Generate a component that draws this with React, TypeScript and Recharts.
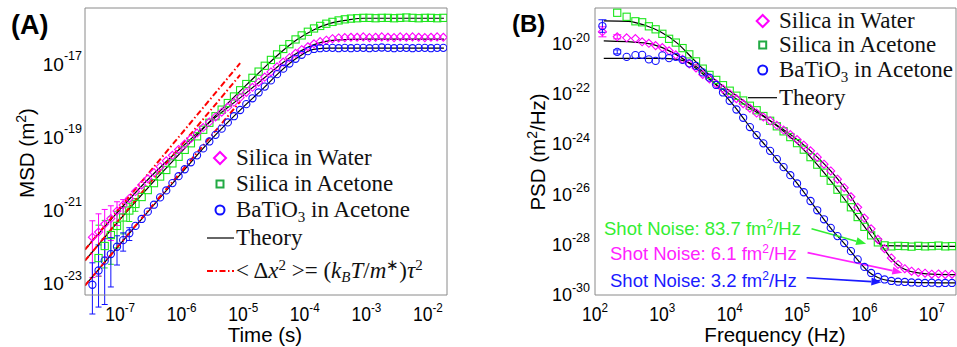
import React from 'react';
import { ComposedChart, Line, Scatter, XAxis, YAxis, ErrorBar, ReferenceLine } from 'recharts';

const SANS = '"Liberation Sans", Arial, Helvetica, sans-serif';
const SERIF = '"Liberation Serif", "Times New Roman", serif';
const AX = '#8a8a8a';
const MAG = '#ff00ff';
const GRN = '#1de61d';
const GRN_LEG = '#22aa44';
const BLU = '#1010ff';
const RED = '#ff0000';

// ---------------- Panel A : MSD vs time (log10 values) ----------------
const timeLog = [
  -7.45, -7.35, -7.25, -7.15, -7.05, -6.95, -6.85, -6.75, -6.65, -6.55,
  -6.45, -6.35, -6.25, -6.15, -6.05, -5.95, -5.85, -5.75, -5.65, -5.55,
  -5.45, -5.35, -5.25, -5.15, -5.05, -4.95, -4.85, -4.75, -4.65, -4.55,
  -4.45, -4.35, -4.25, -4.15, -4.05, -3.95, -3.85, -3.75, -3.65, -3.55,
  -3.45, -3.35, -3.25, -3.15, -3.05, -2.95, -2.85, -2.75, -2.65, -2.55,
  -2.45, -2.35, -2.25, -2.15, -2.05, -1.95, -1.85, -1.75,
];
const msdWater = [
  -21.76, -21.62, -21.40, -21.25, -21.04, -20.88, -20.70, -20.51, -20.33, -20.16,
  -19.99, -19.83, -19.67, -19.52, -19.36, -19.21, -19.06, -18.91, -18.76, -18.61,
  -18.47, -18.34, -18.20, -18.07, -17.94, -17.80, -17.66, -17.52, -17.38, -17.24,
  -17.10, -16.97, -16.85, -16.73, -16.63, -16.55, -16.47, -16.41, -16.37, -16.33,
  -16.31, -16.30, -16.29, -16.29, -16.28, -16.30, -16.29, -16.28, -16.29, -16.30,
  -16.28, -16.29, -16.28, -16.29, -16.30, -16.29, -16.28, -16.29,
];
const msdAcetone = [
  null, -22.33, -22.00, -21.70, -21.45, -21.22, -21.03, -20.85, -20.66, -20.47,
  -20.28, -20.10, -19.92, -19.74, -19.56, -19.37, -19.19, -19.00, -18.82, -18.63,
  -18.45, -18.27, -18.09, -17.91, -17.74, -17.57, -17.40, -17.23, -17.07, -16.91,
  -16.76, -16.61, -16.48, -16.35, -16.24, -16.14, -16.05, -15.98, -15.92, -15.87,
  -15.83, -15.80, -15.78, -15.77, -15.76, -15.76, -15.77, -15.76, -15.76, -15.77,
  -15.76, -15.75, -15.76, -15.77, -15.76, -15.76, -15.77, -15.76,
];
const msdBaTiO3 = [
  -23.06, -22.67, -22.40, -22.22, -22.02, -21.84, -21.65, -21.45, -21.26, -21.06,
  -20.87, -20.67, -20.48, -20.28, -20.09, -19.90, -19.71, -19.52, -19.33, -19.14,
  -18.96, -18.79, -18.62, -18.45, -18.28, -18.12, -17.96, -17.80, -17.64, -17.47,
  -17.30, -17.15, -17.01, -16.88, -16.77, -16.67, -16.61, -16.59, -16.58, -16.58,
  -16.59, -16.58, -16.59, -16.58, -16.58, -16.59, -16.58, -16.57, -16.58, -16.59,
  -16.58, -16.58, -16.59, -16.58, -16.58, -16.59, -16.58, -16.58,
];
const errWaterLow = [1.1, 1.2, 0.9, 0.6, 0.4, 0.25];
const errWaterHigh = [0.45, 0.5, 0.4, 0.35, 0.25, 0.15];
const errAcetoneLow = [0, 0.5, 0.6, 0.8, 0.6, 0.45, 0.3, 0.2];
const errAcetoneHigh = [0, 0.9, 0.7, 0.5, 0.4, 0.3, 0.2, 0.15];
const errBaTiO3Low = [0.8, 1.0, 1.2, 0.9, 0.5, 0.3, 0.2];
const errBaTiO3High = [0.6, 0.7, 0.6, 0.45, 0.3, 0.2, 0.15];

const theoryWaterT = [-7.57, -7.0, -6.5, -6.0, -5.5, -5.0, -4.67, -4.4, -4.13, -3.86, -3.59, -3.3, -3.0, -1.74];
const theoryWaterV = [-22.10, -21.0, -20.1, -19.3, -18.55, -17.88, -17.42, -17.04, -16.73, -16.50, -16.38, -16.35, -16.34, -16.34];
const theoryAcetoneT = [-7.57, -7.0, -6.5, -6.0, -5.5, -5.0, -4.67, -4.4, -4.13, -3.86, -3.59, -3.31, -3.04, -1.74];
const theoryAcetoneV = [-22.40, -21.27, -20.32, -19.42, -18.52, -17.68, -17.14, -16.72, -16.36, -16.09, -15.91, -15.82, -15.77, -15.77];
const theoryBaTiO3T = [-7.57, -7.0, -6.5, -6.0, -5.5, -5.0, -4.67, -4.4, -4.13, -3.86, -3.59, -1.74];
const theoryBaTiO3V = [-23.08, -21.95, -20.97, -20.0, -19.05, -18.20, -17.68, -17.23, -16.86, -16.62, -16.59, -16.59];

const ballisticT = [-7.57, -5.05];
const ballisticWater = [-22.10, -17.0];
const ballisticAcetone = [-22.40, -17.32];
const ballisticBaTiO3 = [-23.08, -18.05];

const timeTicks = [-7, -6, -5, -4, -3, -2];
const msdTicks = [-23, -21, -19, -17];
const msdMinor = [-22, -20, -18, -16];

// ---------------- Panel B : PSD vs frequency (log10 values) ----------------
const freqLog = [
  2.11, 2.33, 2.47, 2.6, 2.7, 2.8, 2.9, 3.0, 3.1, 3.2,
  3.3, 3.4, 3.5, 3.6, 3.7, 3.8, 3.9, 4.0, 4.1, 4.2,
  4.3, 4.4, 4.5, 4.6, 4.7, 4.8, 4.9, 5.0, 5.1, 5.2,
  5.3, 5.4, 5.5, 5.6, 5.7, 5.8, 5.9, 6.0, 6.1, 6.2,
  6.3, 6.4, 6.5, 6.6, 6.7, 6.8, 6.9, 7.0, 7.1, 7.2, 7.3,
];
const psdWater = [
  -19.50, -19.70, -19.74, -19.77, -19.90, -19.96, -20.05, -20.13, -20.26, -20.42,
  -20.60, -20.78, -20.94, -21.20, -21.38, -21.58, -21.78, -21.97, -22.17, -22.37,
  -22.55, -22.74, -22.90, -23.05, -23.23, -23.42, -23.60, -23.80, -24.02, -24.25,
  -24.50, -24.78, -25.05, -25.38, -25.72, -26.08, -26.50, -26.93, -27.36, -27.78,
  -28.15, -28.52, -28.78, -28.95, -29.05, -29.10, -29.13, -29.17, -29.16, -29.18, -29.17,
];
const psdAcetone = [
  null, -18.74, -18.90, -19.08, -19.12, -19.28, -19.40, -19.58, -19.78, -19.93,
  -20.15, -20.40, -20.68, -20.97, -21.22, -21.42, -21.63, -21.85, -22.05, -22.24,
  -22.45, -22.63, -22.86, -23.05, -23.27, -23.47, -23.70, -23.94, -24.20, -24.50,
  -24.80, -25.12, -25.44, -25.80, -26.15, -26.50, -26.89, -27.28, -27.62, -27.90,
  -28.02, -28.06, -28.04, -28.05, -28.07, -28.04, -28.06, -28.05, -28.03, -28.06, -28.05,
];
const psdBaTiO3 = [
  -19.27, -20.30, -20.50, -20.43, -20.42, -20.60, -20.66, -20.44, -20.55, -20.50,
  -20.62, -20.76, -20.86, -21.12, -21.33, -21.62, -21.92, -22.25, -22.60, -22.93,
  -23.30, -23.62, -23.95, -24.25, -24.58, -24.90, -25.22, -25.55, -25.90, -26.25,
  -26.62, -26.98, -27.32, -27.65, -27.93, -28.25, -28.58, -28.88, -29.12, -29.28,
  -29.38, -29.44, -29.47, -29.48, -29.50, -29.51, -29.52, -29.51, -29.53, -29.52, -29.52,
];
const errPsdWaterLow = [0.2, 0.08];
const errPsdWaterHigh = [0.2, 0.08];
const errPsdBaTiO3Low = [0.25, 0.08];
const errPsdBaTiO3High = [0.25, 0.08];

const thPsdWaterF = [2.13, 2.73, 2.97, 3.22, 3.47, 3.71, 3.96, 4.23, 4.6, 4.95, 5.2, 5.5, 5.78, 6.0, 6.15, 6.25, 6.4, 6.55, 6.75, 7.0, 7.36];
const thPsdWaterV = [-19.86, -19.94, -20.10, -20.43, -20.89, -21.42, -21.91, -22.42, -23.05, -23.70, -24.25, -25.05, -26.0, -26.95, -27.6, -28.0, -28.55, -28.9, -29.1, -29.17, -29.19];
const thPsdAcetoneF = [2.13, 2.5, 2.73, 2.97, 3.22, 3.47, 3.71, 3.96, 4.18, 4.5, 4.79, 5.06, 5.3, 5.5, 5.67, 5.85, 6.03, 6.15, 6.3, 7.36];
const thPsdAcetoneV = [-19.06, -19.08, -19.23, -19.50, -19.95, -20.62, -21.25, -21.78, -22.20, -22.85, -23.45, -24.1, -24.8, -25.45, -26.05, -26.72, -27.38, -27.8, -28.03, -28.06];
const thPsdBaTiO3F = [2.13, 3.0, 3.22, 3.5, 3.72, 3.92, 4.15, 4.33, 4.52, 4.75, 4.96, 5.13, 5.32, 5.52, 5.72, 5.9, 6.05, 6.2, 6.4, 6.7, 7.36];
const thPsdBaTiO3V = [-20.56, -20.56, -20.60, -20.88, -21.4, -22.0, -22.75, -23.41, -24.0, -24.75, -25.41, -26.0, -26.7, -27.4, -28.0, -28.6, -29.05, -29.3, -29.45, -29.5, -29.52];

const freqTicks = [2, 3, 4, 5, 6, 7];
const psdTicks = [-30, -28, -26, -24, -22, -20];
const psdMinor = [-29, -27, -25, -23, -21, -19];

// shot-noise annotation arrows (log10 f, log10 PSD)
const arrowGreen = [[5.215, -27.36], [6.025, -27.96]];
const arrowMagenta = [[5.156, -28.31], [6.563, -29.11]];
const arrowBlue = [[5.141, -29.31], [6.252, -29.49]];

// ---------------- helpers ----------------
const series = (xs: number[], ys: (number | null)[], lo?: number[], hi?: number[]) =>
  xs
    .map((x, i) => ({
      x,
      y: ys[i],
      err: lo && hi && i < lo.length && lo[i] > 0 ? [lo[i], hi[i]] : undefined,
    }))
    .filter((d) => d.y !== null && d.y !== undefined);

const minorDecades = (lo: number, hi: number) => {
  const out: number[] = [];
  for (let d = Math.floor(lo); d < hi; d++) {
    for (let k = 2; k <= 9; k++) {
      const v = d + Math.log10(k);
      if (v > lo && v < hi) out.push(v);
    }
  }
  return out;
};

const diamond = (color: string, s: number) => (p: any) => {
  const { cx, cy } = p;
  if (cx == null || cy == null) return <g />;
  return <path d={`M${cx},${cy - s}L${cx + s},${cy}L${cx},${cy + s}L${cx - s},${cy}Z`} fill="none" stroke={color} strokeWidth={1.1} />;
};
const square = (color: string, s: number) => (p: any) => {
  const { cx, cy } = p;
  if (cx == null || cy == null) return <g />;
  return <rect x={cx - s} y={cy - s} width={2 * s} height={2 * s} fill="none" stroke={color} strokeWidth={1.1} />;
};
const circle = (color: string, r: number) => (p: any) => {
  const { cx, cy } = p;
  if (cx == null || cy == null) return <g />;
  return <circle cx={cx} cy={cy} r={r} fill="none" stroke={color} strokeWidth={1.1} />;
};

const arrowShape = (color: string) => (p: any) => {
  const { x1, y1, x2, y2 } = p;
  if ([x1, y1, x2, y2].some((v) => v == null || isNaN(v))) return <g />;
  const a = Math.atan2(y2 - y1, x2 - x1);
  const L = 10;
  const W = 4;
  const bx = x2 - L * Math.cos(a);
  const by = y2 - L * Math.sin(a);
  const px = -Math.sin(a) * W;
  const py = Math.cos(a) * W;
  return (
    <g>
      <line x1={x1} y1={y1} x2={bx} y2={by} stroke={color} strokeWidth={1.6} />
      <polygon points={`${x2},${y2} ${bx + px},${by + py} ${bx - px},${by - py}`} fill={color} />
    </g>
  );
};

const makeXTick = (base: number, sx: number) => (props: any) => {
  const { x, payload } = props;
  return (
    <text transform={`translate(${x},${base}) scale(${sx},1)`} x={0} y={0} textAnchor="middle" fontFamily={SANS} fontSize={19.5} fill="#000">
      10<tspan dy={-8.7} fontSize={13}>{String(payload.value)}</tspan>
    </text>
  );
};
const makeYTick = (right: number, dyBase: number, fs: number, expDy: number) => (props: any) => {
  const { y, payload } = props;
  return (
    <text x={right} y={y + dyBase} textAnchor="end" fontFamily={SANS} fontSize={fs} fill="#000">
      10<tspan dy={expDy} fontSize={12.5}>{String(payload.value)}</tspan>
    </text>
  );
};

const boxAxes = (xDomain: number[], yDomain: number[], xMajor: number[], xMinor: number[], yMajor: number[], yMinor: number[]) => {
  const c = { type: 'number' as const, allowDataOverflow: true, interval: 0 as const, tick: false, mirror: true };
  return [
    <XAxis key="xb1" xAxisId="xb1" orientation="bottom" domain={xDomain} ticks={xMajor} tickSize={5} axisLine={false} tickLine={{ stroke: AX }} {...c} />,
    <XAxis key="xb2" xAxisId="xb2" orientation="bottom" domain={xDomain} ticks={xMinor} tickSize={3} axisLine={false} tickLine={{ stroke: AX }} {...c} />,
    <XAxis key="xt1" xAxisId="xt1" orientation="top" domain={xDomain} ticks={xMajor} tickSize={5} axisLine={{ stroke: AX }} tickLine={{ stroke: AX }} {...c} />,
    <XAxis key="xt2" xAxisId="xt2" orientation="top" domain={xDomain} ticks={xMinor} tickSize={3} axisLine={false} tickLine={{ stroke: AX }} {...c} />,
    <YAxis key="yl1" yAxisId="yl1" orientation="left" domain={yDomain} ticks={yMajor} tickSize={5} axisLine={false} tickLine={{ stroke: AX }} {...c} />,
    <YAxis key="yl2" yAxisId="yl2" orientation="left" domain={yDomain} ticks={yMinor} tickSize={3} axisLine={false} tickLine={{ stroke: AX }} {...c} />,
    <YAxis key="yr1" yAxisId="yr1" orientation="right" domain={yDomain} ticks={yMajor} tickSize={5} axisLine={{ stroke: AX }} tickLine={{ stroke: AX }} {...c} />,
    <YAxis key="yr2" yAxisId="yr2" orientation="right" domain={yDomain} ticks={yMinor} tickSize={3} axisLine={false} tickLine={{ stroke: AX }} {...c} />,
  ];
};

const A_X: number[] = [-7.57, -1.69];
const A_Y: number[] = [-23.34, -15.49];
const B_X: number[] = [2, 7.36];
const B_Y: number[] = [-30, -18.55];

function PanelA() {
  const dW = series(timeLog, msdWater, errWaterLow, errWaterHigh);
  const dA = series(timeLog, msdAcetone, errAcetoneLow, errAcetoneHigh);
  const dB = series(timeLog, msdBaTiO3, errBaTiO3Low, errBaTiO3High);
  return (
    <ComposedChart width={480} height={347} margin={{ top: 8, right: 33, bottom: 22, left: 0 }}>
      <XAxis xAxisId="m" dataKey="x" type="number" domain={A_X} allowDataOverflow ticks={timeTicks} interval={0}
        tickLine={false} axisLine={{ stroke: AX }} height={30} tick={makeXTick(320.5, 0.9)} />
      <YAxis yAxisId="m" dataKey="y" type="number" domain={A_Y} allowDataOverflow ticks={msdTicks} interval={0}
        tickLine={false} axisLine={{ stroke: AX }} width={85} tick={makeYTick(82, 7.4, 19, -10.4)} />
      {boxAxes(A_X, A_Y, timeTicks, minorDecades(A_X[0], A_X[1]), msdTicks, msdMinor)}
      <Scatter xAxisId="m" yAxisId="m" data={dA} dataKey="y" shape={square(GRN, 3.6)} isAnimationActive={false}>
        <ErrorBar dataKey="err" direction="y" width={3} stroke={GRN} strokeWidth={1} />
      </Scatter>
      <Scatter xAxisId="m" yAxisId="m" data={dW} dataKey="y" shape={diamond(MAG, 4)} isAnimationActive={false}>
        <ErrorBar dataKey="err" direction="y" width={3} stroke={MAG} strokeWidth={1} />
      </Scatter>
      <Scatter xAxisId="m" yAxisId="m" data={dB} dataKey="y" shape={circle(BLU, 3.6)} isAnimationActive={false}>
        <ErrorBar dataKey="err" direction="y" width={3} stroke={BLU} strokeWidth={1} />
      </Scatter>
      <Line xAxisId="m" yAxisId="m" data={series(theoryWaterT, theoryWaterV)} dataKey="y" type="monotone" stroke="#000" strokeWidth={1.2} dot={false} isAnimationActive={false} />
      <Line xAxisId="m" yAxisId="m" data={series(theoryAcetoneT, theoryAcetoneV)} dataKey="y" type="monotone" stroke="#000" strokeWidth={1.2} dot={false} isAnimationActive={false} />
      <Line xAxisId="m" yAxisId="m" data={series(theoryBaTiO3T, theoryBaTiO3V)} dataKey="y" type="monotone" stroke="#000" strokeWidth={1.2} dot={false} isAnimationActive={false} />
      <Line xAxisId="m" yAxisId="m" data={series(ballisticT, ballisticWater)} dataKey="y" type="linear" stroke={RED} strokeWidth={2} strokeDasharray="6 2.5 1.5 2.5" dot={false} isAnimationActive={false} />
      <Line xAxisId="m" yAxisId="m" data={series(ballisticT, ballisticAcetone)} dataKey="y" type="linear" stroke={RED} strokeWidth={2} strokeDasharray="6 2.5 1.5 2.5" dot={false} isAnimationActive={false} />
      <Line xAxisId="m" yAxisId="m" data={series(ballisticT, ballisticBaTiO3)} dataKey="y" type="linear" stroke={RED} strokeWidth={2} strokeDasharray="6 2.5 1.5 2.5" dot={false} isAnimationActive={false} />
    </ComposedChart>
  );
}

function PanelB() {
  const dW = series(freqLog, psdWater, errPsdWaterLow, errPsdWaterHigh);
  const dA = series(freqLog, psdAcetone);
  const dB = series(freqLog, psdBaTiO3, errPsdBaTiO3Low, errPsdBaTiO3High);
  const seg = (a: number[][]) => [{ x: a[0][0], y: a[0][1] }, { x: a[1][0], y: a[1][1] }];
  return (
    <ComposedChart width={477} height={347} margin={{ top: 8, right: 1, bottom: 22, left: 0 }}>
      <XAxis xAxisId="m" dataKey="x" type="number" domain={B_X} allowDataOverflow ticks={freqTicks} interval={0}
        tickLine={false} axisLine={{ stroke: AX }} height={30} tick={makeXTick(320.5, 0.9)} />
      <YAxis yAxisId="m" dataKey="y" type="number" domain={B_Y} allowDataOverflow ticks={psdTicks} interval={0}
        tickLine={false} axisLine={{ stroke: AX }} width={115} tick={makeYTick(110, 5.8, 18, -8.5)} />
      {boxAxes(B_X, B_Y, freqTicks, minorDecades(B_X[0], B_X[1]), psdTicks, psdMinor)}
      <Scatter xAxisId="m" yAxisId="m" data={dA} dataKey="y" shape={square(GRN, 3.6)} isAnimationActive={false} />
      <Scatter xAxisId="m" yAxisId="m" data={dW} dataKey="y" shape={diamond(MAG, 4)} isAnimationActive={false}>
        <ErrorBar dataKey="err" direction="y" width={4} stroke={MAG} strokeWidth={1} />
      </Scatter>
      <Scatter xAxisId="m" yAxisId="m" data={dB} dataKey="y" shape={circle(BLU, 3.6)} isAnimationActive={false}>
        <ErrorBar dataKey="err" direction="y" width={4} stroke={BLU} strokeWidth={1} />
      </Scatter>
      <Line xAxisId="m" yAxisId="m" data={series(thPsdWaterF, thPsdWaterV)} dataKey="y" type="monotone" stroke="#000" strokeWidth={1.2} dot={false} isAnimationActive={false} />
      <Line xAxisId="m" yAxisId="m" data={series(thPsdAcetoneF, thPsdAcetoneV)} dataKey="y" type="monotone" stroke="#000" strokeWidth={1.2} dot={false} isAnimationActive={false} />
      <Line xAxisId="m" yAxisId="m" data={series(thPsdBaTiO3F, thPsdBaTiO3V)} dataKey="y" type="monotone" stroke="#000" strokeWidth={1.2} dot={false} isAnimationActive={false} />
      <ReferenceLine xAxisId="m" yAxisId="m" segment={seg(arrowGreen)} stroke={GRN} shape={arrowShape('#33ee33')} ifOverflow="visible" />
      <ReferenceLine xAxisId="m" yAxisId="m" segment={seg(arrowMagenta)} stroke={MAG} shape={arrowShape('#ff22ff')} ifOverflow="visible" />
      <ReferenceLine xAxisId="m" yAxisId="m" segment={seg(arrowBlue)} stroke={BLU} shape={arrowShape('#1a1aff')} ifOverflow="visible" />
    </ComposedChart>
  );
}

function Overlay() {
  const legFs = 23;
  return (
    <svg width={957} height={347} style={{ position: 'absolute', left: 0, top: 0, pointerEvents: 'none' }}>
      {/* panel letters */}
      <text x={11} y={34} fontFamily={SANS} fontWeight="bold" fontSize={27} fill="#000">(A)</text>
      <text x={512} y={32} fontFamily={SANS} fontWeight="bold" fontSize={24} fill="#000">(B)</text>
      {/* axis titles */}
      <text x={265} y={342} textAnchor="middle" fontFamily={SANS} fontSize={20.5} fill="#000">Time (s)</text>
      <text x={775} y={342} textAnchor="middle" fontFamily={SANS} fontSize={20.5} fill="#000">Frequency (Hz)</text>
      <text transform="translate(34,153) rotate(-90)" textAnchor="middle" fontFamily={SANS} fontSize={20.5} fill="#000">
        MSD (m<tspan dy={-8} fontSize={14}>2</tspan><tspan dy={8}>)</tspan>
      </text>
      <text transform="translate(545,152) rotate(-90)" textAnchor="middle" fontFamily={SANS} fontSize={20.5} fill="#000">
        PSD (m<tspan dy={-8} fontSize={14}>2</tspan><tspan dy={8}>/Hz)</tspan>
      </text>

      {/* legend A */}
      <path d="M220,152L226,158L220,164L214,158Z" fill="none" stroke={MAG} strokeWidth={2} />
      <text x={236} y={165} fontFamily={SERIF} fontSize={legFs} fill="#111">Silica in Water</text>
      <rect x={216.5} y={180.5} width={7} height={7} fill="none" stroke={GRN_LEG} strokeWidth={2} />
      <text x={236} y={191} fontFamily={SERIF} fontSize={legFs} fill="#111">Silica in Acetone</text>
      <circle cx={220} cy={210} r={4.5} fill="none" stroke={BLU} strokeWidth={2} />
      <text x={236} y={217} fontFamily={SERIF} fontSize={legFs} fill="#111">BaTiO<tspan dy={5} fontSize={15}>3</tspan><tspan dy={-5}> in Acetone</tspan></text>
      <line x1={207} y1={238} x2={234} y2={238} stroke="#000" strokeWidth={1.2} />
      <text x={236} y={245} fontFamily={SERIF} fontSize={legFs} fill="#111">Theory</text>
      <line x1={207} y1={271} x2={234} y2={271} stroke={RED} strokeWidth={2} strokeDasharray="6 2.5 1.5 2.5" />
      <text x={236} y={278} fontFamily={SERIF} fontSize={legFs} fill="#111">
        {'< Δ'}<tspan fontStyle="italic">x</tspan><tspan dy={-8} fontSize={15}>2</tspan><tspan dy={8}>{' >= ('}</tspan><tspan fontStyle="italic">k</tspan><tspan dy={4} fontSize={15} fontStyle="italic">B</tspan><tspan dy={-4} fontStyle="italic">T</tspan><tspan>/</tspan><tspan fontStyle="italic">m</tspan><tspan dy={-8} fontSize={15}>∗</tspan><tspan dy={8}>)</tspan><tspan fontStyle="italic">τ</tspan><tspan dy={-8} fontSize={15}>2</tspan>
      </text>

      {/* legend B */}
      <path d="M762.7,15L768.7,21L762.7,27L756.7,21Z" fill="none" stroke={MAG} strokeWidth={2} />
      <text x={779} y={28} fontFamily={SERIF} fontSize={legFs} fill="#111">Silica in Water</text>
      <rect x={759.2} y={41.5} width={7} height={7} fill="none" stroke={GRN_LEG} strokeWidth={2} />
      <text x={779} y={52} fontFamily={SERIF} fontSize={legFs} fill="#111">Silica in Acetone</text>
      <circle cx={762.7} cy={70} r={4.5} fill="none" stroke={BLU} strokeWidth={2} />
      <text x={779} y={77} fontFamily={SERIF} fontSize={legFs} fill="#111">BaTiO<tspan dy={5} fontSize={15}>3</tspan><tspan dy={-5}> in Acetone</tspan></text>
      <line x1={748} y1={97.7} x2={777} y2={97.7} stroke="#000" strokeWidth={1.2} />
      <text x={779} y={105} fontFamily={SERIF} fontSize={legFs} fill="#111">Theory</text>

      {/* shot-noise annotations */}
      <text x={604} y={235} fontFamily={SANS} fontSize={18.5} fill="#33ee33">Shot Noise: 83.7 fm<tspan dy={-7} fontSize={12}>2</tspan><tspan dy={7}>/Hz</tspan></text>
      <text x={610} y={260} fontFamily={SANS} fontSize={18.5} fill="#ff22ff">Shot Noise: 6.1 fm<tspan dy={-7} fontSize={12}>2</tspan><tspan dy={7}>/Hz</tspan></text>
      <text x={610} y={286.5} fontFamily={SANS} fontSize={18.5} fill="#1a1aff">Shot Noise: 3.2 fm<tspan dy={-7} fontSize={12}>2</tspan><tspan dy={7}>/Hz</tspan></text>
    </svg>
  );
}

export default function App() {
  return (
    <div style={{ position: 'absolute', left: 0, top: 0, width: 957, height: 347, background: '#fff' }}>
      <div style={{ position: 'absolute', left: 0, top: 0 }}>
        <PanelA />
      </div>
      <div style={{ position: 'absolute', left: 480, top: 0 }}>
        <PanelB />
      </div>
      <Overlay />
    </div>
  );
}
